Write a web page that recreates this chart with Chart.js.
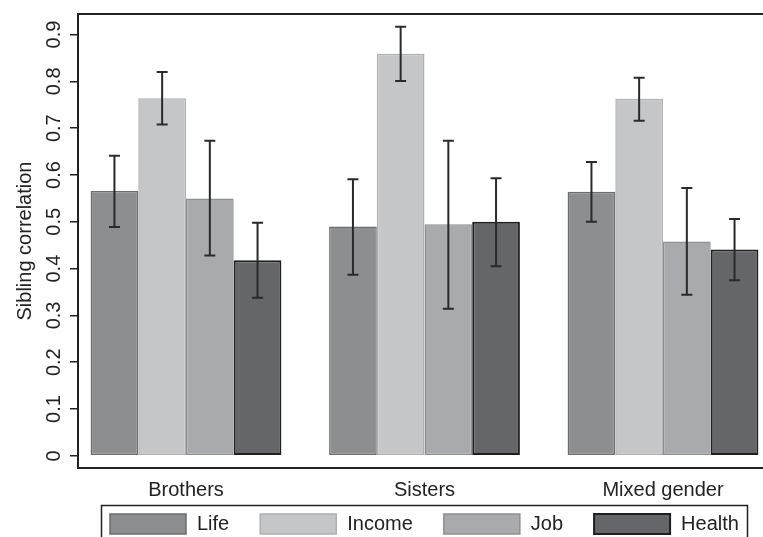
<!DOCTYPE html>
<html>
<head>
<meta charset="utf-8">
<script src="https://cdn.jsdelivr.net/npm/chart.js@4/dist/chart.umd.min.js"></script>
<style>
  html, body { margin: 0; padding: 0; background: #ffffff; overflow: hidden; }
  #wrap { width: 763px; height: 537px; position: relative; }
</style>
</head>
<body>
<div id="wrap"><canvas id="c"></canvas></div>
<script>
// ---- data ----
const categories = ["Brothers", "Sisters", "Mixed gender"];
const seriesNames = ["Life", "Income", "Job", "Health"];

const lifeValues   = [0.566, 0.490, 0.564];
const incomeValues = [0.764, 0.859, 0.763];
const jobValues    = [0.550, 0.495, 0.458];
const healthValues = [0.418, 0.500, 0.441];

const lifeLow    = [0.489, 0.387, 0.500];
const lifeHigh   = [0.641, 0.591, 0.628];
const incomeLow  = [0.708, 0.801, 0.716];
const incomeHigh = [0.820, 0.917, 0.808];
const jobLow     = [0.428, 0.314, 0.344];
const jobHigh    = [0.673, 0.673, 0.572];
const healthLow  = [0.338, 0.405, 0.375];
const healthHigh = [0.498, 0.593, 0.506];

const yTickValues = [0, 0.1, 0.2, 0.3, 0.4, 0.5, 0.6, 0.7, 0.8, 0.9];
const yTickLabels = ["0", "0.1", "0.2", "0.3", "0.4", "0.5", "0.6", "0.7", "0.8", "0.9"];
const xPositions = [0, 1, 2];

// ---- styles ----
const fills   = ["#8d8e90", "#c5c6c8", "#a9aaad", "#65666a"];
const borders = ["#6c6d6f", "#afb0b2", "#8e8f92", "#1f1f1f"];
const borderWidths = [1.5, 1.5, 1.5, 2];
const ink = "#222222";
const FONT = "'Liberation Sans', Arial, Helvetica, sans-serif";

const seriesValues = [lifeValues, incomeValues, jobValues, healthValues];
const seriesLow = [lifeLow, incomeLow, jobLow, healthLow];
const seriesHigh = [lifeHigh, incomeHigh, jobHigh, healthHigh];

const datasets = seriesNames.map((name, s) => ({
  label: name,
  data: xPositions.map((x, i) => ({ x: x, y: seriesValues[s][i] })),
  backgroundColor: fills[s],
  borderColor: borders[s],
  borderWidth: borderWidths[s],
  borderSkipped: false,
  categoryPercentage: 0.8,
  barPercentage: 1.0,
  errLow: seriesLow[s],
  errHigh: seriesHigh[s]
}));

const extrasPlugin = {
  id: 'extras',
  afterDatasetsDraw(chart) {
    const ctx = chart.ctx;
    const y = chart.scales.y;
    ctx.save();
    ctx.strokeStyle = "#2a2a2a";
    ctx.lineWidth = 2;
    chart.data.datasets.forEach((ds, di) => {
      const meta = chart.getDatasetMeta(di);
      meta.data.forEach((el, i) => {
        const yt = y.getPixelForValue(ds.errHigh[i]);
        const yb = y.getPixelForValue(ds.errLow[i]);
        const x = el.x;
        const cap = 5.5;
        ctx.beginPath();
        ctx.moveTo(x, yt); ctx.lineTo(x, yb);
        ctx.moveTo(x - cap, yt); ctx.lineTo(x + cap, yt);
        ctx.moveTo(x - cap, yb); ctx.lineTo(x + cap, yb);
        ctx.stroke();
      });
    });
    ctx.restore();
  },
  afterDraw(chart) {
    const ctx = chart.ctx;
    const area = chart.chartArea;
    const y = chart.scales.y;
    ctx.save();
    // top frame line
    ctx.strokeStyle = ink;
    ctx.lineWidth = 2;
    ctx.beginPath();
    ctx.moveTo(area.left - 1, area.top);
    ctx.lineTo(chart.width, area.top);
    ctx.stroke();

    // rotated y tick labels
    ctx.fillStyle = ink;
    ctx.font = "20px " + FONT;
    ctx.textAlign = "center";
    ctx.textBaseline = "middle";
    yTickValues.forEach((v, i) => {
      const py = y.getPixelForValue(v);
      ctx.save();
      ctx.translate(54, py);
      ctx.rotate(-Math.PI / 2);
      ctx.fillText(yTickLabels[i], 0, 0);
      ctx.restore();
    });

    // legend
    const lgTop = 505.5;
    ctx.lineWidth = 1.5;
    ctx.strokeStyle = ink;
    ctx.strokeRect(101.5, lgTop, 646, 45);
    let lx = 110;
    ctx.textAlign = "left";
    ctx.textBaseline = "middle";
    chart.data.datasets.forEach((ds, di) => {
      ctx.fillStyle = ds.backgroundColor;
      ctx.fillRect(lx, 514, 76, 20);
      ctx.strokeStyle = ds.borderColor;
      ctx.lineWidth = ds.borderWidth;
      ctx.strokeRect(lx, 514, 76, 20);
      ctx.fillStyle = ink;
      const tx = lx + 76 + 11;
      ctx.fillText(ds.label, tx, 524.5);
      lx = tx + ctx.measureText(ds.label).width + 31;
    });
    ctx.restore();
  }
};

new Chart(document.getElementById('c'), {
  type: 'bar',
  data: { datasets: datasets },
  options: {
    responsive: true,
    maintainAspectRatio: false,
    animation: false,
    devicePixelRatio: 1,
    layout: { padding: { top: 14, right: 0, bottom: 0, left: 0 } },
    plugins: { legend: { display: false }, tooltip: { enabled: false } },
    scales: {
      x: {
        type: 'linear',
        offset: false,
        min: -0.4528,
        max: 2.4193,
        afterBuildTicks: (scale) => { scale.ticks = xPositions.map(v => ({ value: v })); },
        afterFit: (scale) => { scale.height = 69; },
        grid: { display: false, offset: false, drawTicks: false },
        border: { display: true, color: ink, width: 2 },
        ticks: {
          padding: 10,
          color: ink,
          font: { family: FONT, size: 20 },
          maxRotation: 0,
          autoSkip: false,
          callback: (v) => categories[v] ?? ""
        }
      },
      y: {
        type: 'linear',
        min: -0.026,
        max: 0.944,
        afterBuildTicks: (scale) => { scale.ticks = yTickValues.map(v => ({ value: v })); },
        afterFit: (scale) => { scale.width = 78; },
        grid: { display: true, drawOnChartArea: false, drawTicks: true, tickLength: 8, color: ink, lineWidth: 1.5 },
        border: { display: true, color: ink, width: 2 },
        ticks: { display: false },
        title: {
          display: true,
          text: "Sibling correlation",
          color: ink,
          font: { family: FONT, size: 20 },
          padding: { top: 13, bottom: 0 }
        }
      }
    }
  },
  plugins: [extrasPlugin]
});
</script>
</body>
</html>
